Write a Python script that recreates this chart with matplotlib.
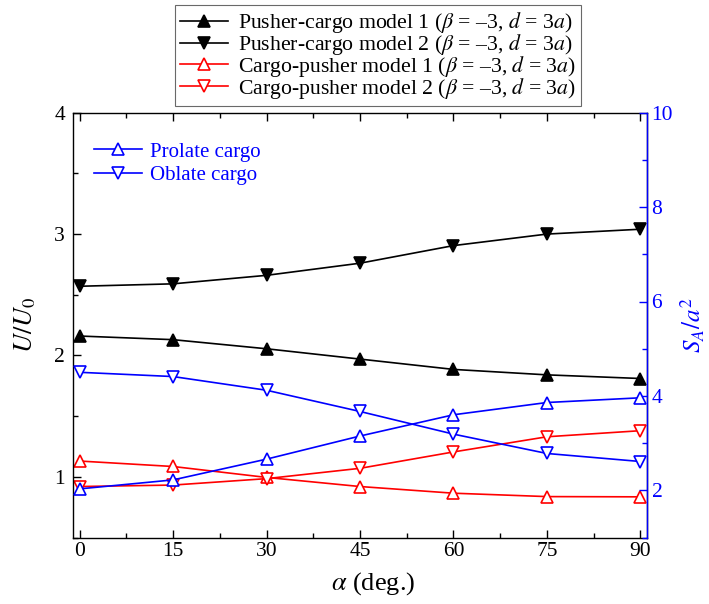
import matplotlib
matplotlib.use("Agg")
import matplotlib.pyplot as plt
from matplotlib.ticker import MultipleLocator

plt.rcParams['font.family'] = ['Liberation Serif', 'DejaVu Serif']
plt.rcParams['mathtext.fontset'] = 'stix'

# ---- data ----
alpha = [0, 15, 30, 45, 60, 75, 90]
pc_model1 = [2.16, 2.13, 2.055, 1.97, 1.885, 1.84, 1.81]
pc_model2 = [2.57, 2.59, 2.66, 2.76, 2.905, 3.00, 3.04]
cp_model1 = [1.13, 1.085, 0.995, 0.92, 0.865, 0.837, 0.835]
cp_model2 = [0.92, 0.932, 0.985, 1.07, 1.205, 1.33, 1.38]
prolate = [2.03, 2.22, 2.66, 3.15, 3.60, 3.86, 3.96]
oblate = [4.50, 4.41, 4.12, 3.67, 3.19, 2.78, 2.61]

x_ticks = [0, 15, 30, 45, 60, 75, 90]
left_ticks = [1, 2, 3, 4]
right_ticks = [2, 4, 6, 8, 10]

legend_suffix = r' ($\beta$ = –3, $d$ = 3$a$)'
labels_main = ['Pusher-cargo model 1' + legend_suffix,
               'Pusher-cargo model 2' + legend_suffix,
               'Cargo-pusher model 1' + legend_suffix,
               'Cargo-pusher model 2' + legend_suffix]
labels_shape = ['Prolate cargo', 'Oblate cargo']

fig = plt.figure(figsize=(7.09, 6.04), dpi=100)
ax = fig.add_axes([73.3/709, 1-537.5/604, (646.7-73.3)/709, (537.5-112.7)/604])
ax2 = ax.twinx()

ms = 9
lw = 1.2
mew = 1.2
l1, = ax.plot(alpha, pc_model1, '-^', color='black', ms=ms, lw=lw, mew=mew, label=labels_main[0])
l2, = ax.plot(alpha, pc_model2, '-v', color='black', ms=ms, lw=lw, mew=mew, label=labels_main[1])
l3, = ax.plot(alpha, cp_model1, '-^', color='red', mfc='white', ms=ms, lw=lw, mew=mew, label=labels_main[2])
l4, = ax.plot(alpha, cp_model2, '-v', color='red', mfc='white', ms=ms, lw=lw, mew=mew, label=labels_main[3])
b1, = ax2.plot(alpha, prolate, '-^', color='blue', mfc='white', ms=ms, lw=lw, mew=mew, label=labels_shape[0])
b2, = ax2.plot(alpha, oblate, '-v', color='blue', mfc='white', ms=ms, lw=lw, mew=mew, label=labels_shape[1])

ax.set_xlim(-1, 91)
ax.set_ylim(0.5, 4)
ax2.set_ylim(1, 10)

ax.set_xticks(x_ticks)
ax.set_yticks(left_ticks)
ax2.set_yticks(right_ticks)
ax.xaxis.set_minor_locator(MultipleLocator(7.5))
ax.yaxis.set_minor_locator(MultipleLocator(0.5))
ax2.yaxis.set_minor_locator(MultipleLocator(1))

fs = 15.5
ax.tick_params(which='both', direction='in', top=True, right=False, labelsize=fs, width=1.0)
ax.tick_params(which='major', length=6)
ax.tick_params(which='minor', length=3.5)
ax.tick_params(axis='y', pad=6)
ax2.tick_params(which='both', direction='in', colors='blue', labelsize=fs, width=1.0)
ax2.tick_params(which='major', length=6)
ax2.tick_params(which='minor', length=3.5)

for s in ax.spines.values():
    s.set_linewidth(1.0)
for k in ['left', 'top', 'bottom']:
    ax2.spines[k].set_visible(False)
ax2.spines['right'].set_color('blue')
ax2.spines['right'].set_linewidth(1.0)

ax.set_xlabel(r'$\alpha$ (deg.)', fontsize=19, labelpad=6)
ax.xaxis.label.set_x((373 - 73.3) / 573.4)
ax.set_ylabel(r'$U/U_0$', fontsize=19, labelpad=12)
ax2.set_ylabel(r'$S_A/a^2$', fontsize=18, color='blue', labelpad=4)

leg = fig.legend(handles=[l1, l2, l3, l4], loc='upper center',
                 bbox_to_anchor=(378/709, 1-5/604), bbox_transform=fig.transFigure,
                 fontsize=15.7, frameon=True, fancybox=False, edgecolor='#444444',
                 labelspacing=-0.15, handlelength=2.2, handletextpad=0.45,
                 borderpad=0.25, borderaxespad=0)
leg.get_frame().set_linewidth(0.8)

leg2 = ax2.legend(handles=[b1, b2], loc='upper left', bbox_to_anchor=(94/709, 1-142/604),
                  bbox_transform=fig.transFigure, fontsize=15, frameon=False,
                  labelspacing=0.2, handlelength=2.3, handletextpad=0.4,
                  borderpad=0, borderaxespad=0)
for t in leg2.get_texts():
    t.set_color('blue')

fig.savefig('out.png', dpi=100)
